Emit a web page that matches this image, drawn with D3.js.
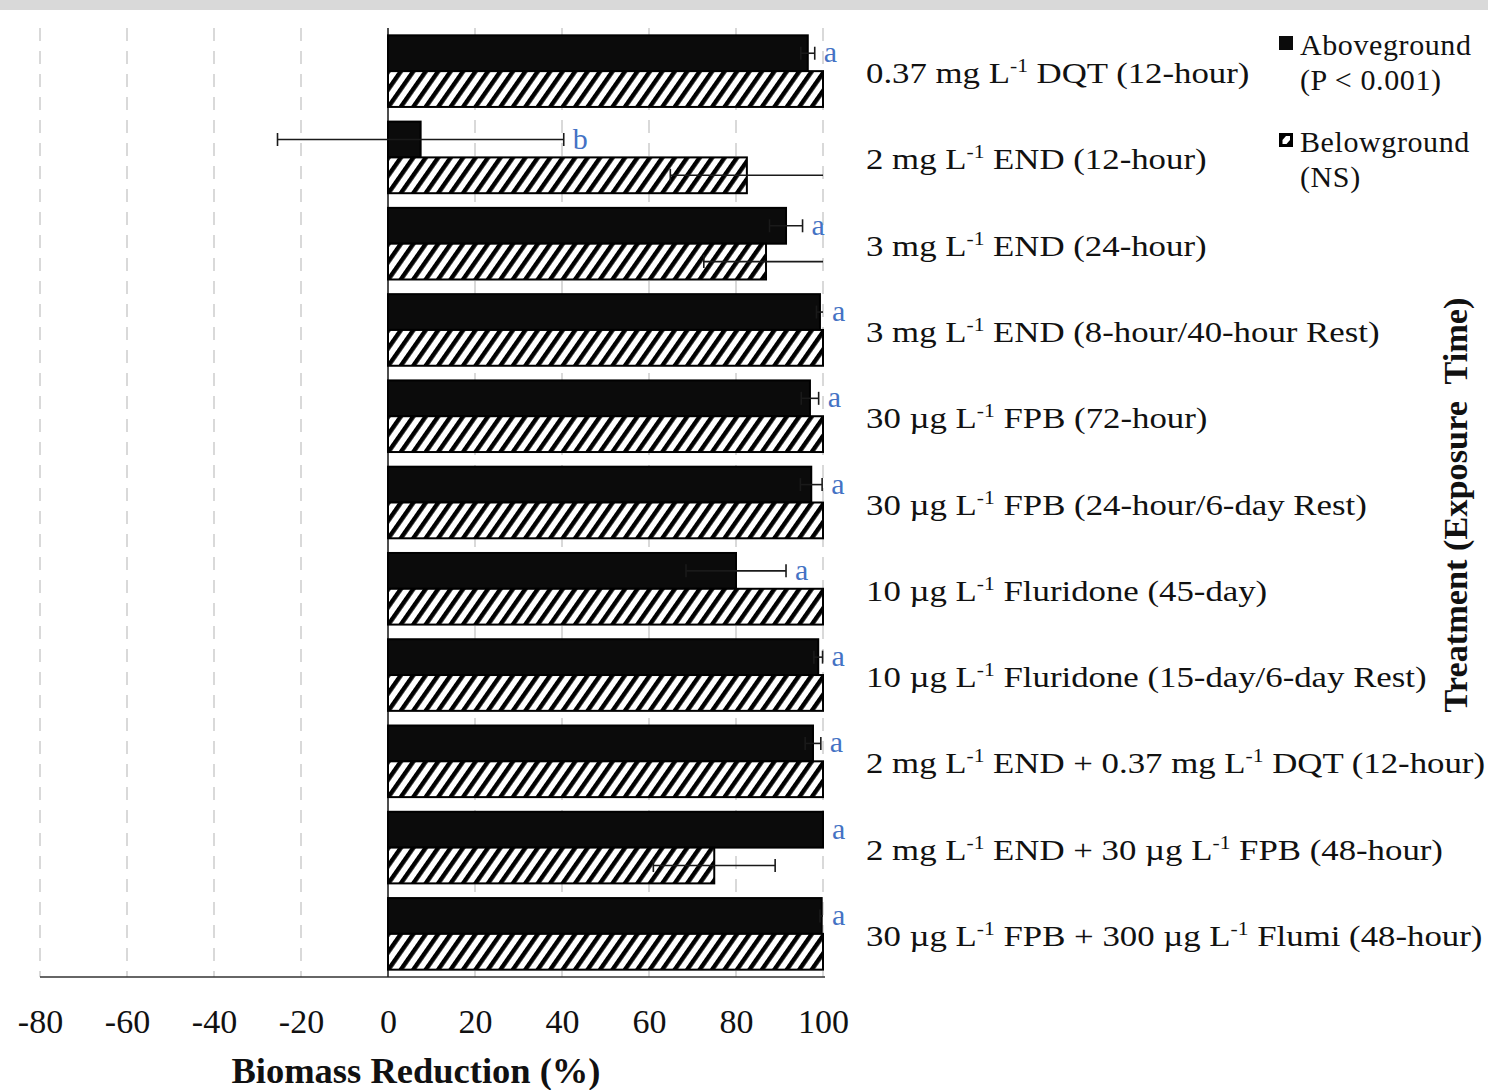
<!DOCTYPE html>
<html>
<head>
<meta charset="utf-8">
<script src="https://cdn.jsdelivr.net/npm/d3@7"></script>
<style>
  html, body { margin: 0; padding: 0; background: #fff; }
  svg { display: block; }
  text { font-family: "Liberation Serif", "Times New Roman", serif; fill: #111; }
</style>
</head>
<body>
<svg id="chart" width="1488" height="1090"></svg>
<script>
// Treatments (exposure time); "^-1" marks a superscript exponent
const treatments = [
  "0.37 mg L^-1 DQT (12-hour)",
  "2 mg L^-1 END (12-hour)",
  "3 mg L^-1 END (24-hour)",
  "3 mg L^-1 END (8-hour/40-hour Rest)",
  "30 µg L^-1 FPB (72-hour)",
  "30 µg L^-1 FPB (24-hour/6-day Rest)",
  "10 µg L^-1 Fluridone (45-day)",
  "10 µg L^-1 Fluridone (15-day/6-day Rest)",
  "2 mg L^-1 END + 0.37 mg L^-1 DQT (12-hour)",
  "2 mg L^-1 END + 30 µg L^-1 FPB (48-hour)",
  "30 µg L^-1 FPB + 300 µg L^-1 Flumi (48-hour)"
];

// Mean biomass reduction (%) and standard error
const aboveMean = [96.5, 7.5, 91.5, 99.3, 97.0, 97.3, 80.0, 98.9, 97.7, 100, 99.7];
const aboveErr  = [1.6, 32.9, 3.8, 0.8, 2.0, 2.5, 11.5, 1.0, 1.8, 0, 0.4];
const belowMean = [100, 82.5, 86.9, 100, 100, 100, 100, 100, 100, 75.0, 100];
const belowErr  = [0, 17.6, 14.3, 0, 0, 0, 0, 0, 0, 14.0, 0];

// Significance letters for aboveground biomass
const letters = ["a", "b", "a", "a", "a", "a", "a", "a", "a", "a", "a"];

const xTicks = [-80, -60, -40, -20, 0, 20, 40, 60, 80, 100];
const seriesNames = ["Aboveground", "Belowground"];
const seriesNotes = ["(P < 0.001)", "(NS)"];

const svg = d3.select("#chart");
const W = 1488, H = 1090;
const plot = { left: 40, right: 823, top: 28, bottom: 977 };

svg.append("rect").attr("width", W).attr("height", H).attr("fill", "#fff");
svg.append("rect").attr("width", W).attr("height", 10).attr("fill", "#d9d9d9");

// Diagonal hatch for belowground bars
const defs = svg.append("defs");
const hatch = defs.append("pattern")
  .attr("id", "hatch")
  .attr("patternUnits", "userSpaceOnUse")
  .attr("width", 10.2).attr("height", 10.2)
  .attr("patternTransform", "rotate(35)");
hatch.append("rect").attr("width", 10.2).attr("height", 10.2).attr("fill", "#fff");
hatch.append("rect").attr("x", 0).attr("width", 4.4).attr("height", 10.2).attr("fill", "#000");

const x = d3.scaleLinear().domain([-80, 100]).range([plot.left, plot.right]);
const y = d3.scaleBand().domain(d3.range(treatments.length))
  .range([plot.top, plot.bottom]).paddingInner(0.17).paddingOuter(0.085);
const sub = d3.scaleBand().domain([0, 1]).range([0, y.bandwidth()]);

// Dashed vertical gridlines
svg.append("g")
  .selectAll("line")
  .data(xTicks.filter(t => t !== 0))
  .join("line")
  .attr("x1", d => x(d)).attr("x2", d => x(d))
  .attr("y1", plot.top).attr("y2", plot.bottom)
  .attr("stroke", "#d9d9d9").attr("stroke-width", 2)
  .attr("stroke-dasharray", "13,10");

// Bottom axis with tick labels (plain hyphen for negatives)
const xAxis = d3.axisBottom(x).tickValues(xTicks).tickSize(0).tickPadding(0)
  .tickFormat(d => String(d));
const gx = svg.append("g").attr("transform", `translate(0,${plot.bottom})`).call(xAxis);
gx.select(".domain").attr("stroke", "#333").attr("stroke-width", 1.6)
  .attr("d", `M${plot.left},0H${x(100) + 2}`);
gx.selectAll(".tick text")
  .attr("y", 56).attr("dy", null)
  .style("font-family", "'Liberation Serif', 'Times New Roman', serif")
  .style("font-size", "34px").attr("fill", "#111");

// Zero line
svg.append("line")
  .attr("x1", x(0)).attr("x2", x(0))
  .attr("y1", plot.top).attr("y2", plot.bottom)
  .attr("stroke", "#222").attr("stroke-width", 1.6);

const groups = svg.append("g").selectAll("g")
  .data(treatments.map((t, i) => i))
  .join("g")
  .attr("transform", i => `translate(0,${y(i)})`);

// Aboveground bars
groups.append("rect")
  .attr("x", x(0))
  .attr("y", sub(0))
  .attr("width", i => x(aboveMean[i]) - x(0))
  .attr("height", sub.bandwidth())
  .attr("fill", "#0b0b0b").attr("stroke", "#000").attr("stroke-width", 2);

// Belowground bars
groups.append("rect")
  .attr("x", x(0))
  .attr("y", sub(1))
  .attr("width", i => x(belowMean[i]) - x(0))
  .attr("height", sub.bandwidth())
  .attr("fill", "url(#hatch)").attr("stroke", "#000").attr("stroke-width", 2);

// Error bars, cut at the axis maximum (no cap where cut)
function errorBar(g, mean, err, yc) {
  if (!err) return;
  const lo = mean - err, hi = mean + err;
  const hiC = Math.min(hi, 100);
  const capH = 13;
  g.append("line").attr("x1", x(lo)).attr("x2", x(hiC)).attr("y1", yc).attr("y2", yc)
    .attr("stroke", "#1a1a1a").attr("stroke-width", 1.6);
  g.append("line").attr("x1", x(lo)).attr("x2", x(lo))
    .attr("y1", yc - capH / 2).attr("y2", yc + capH / 2)
    .attr("stroke", "#1a1a1a").attr("stroke-width", 1.6);
  if (hi <= 100) {
    g.append("line").attr("x1", x(hi)).attr("x2", x(hi))
      .attr("y1", yc - capH / 2).attr("y2", yc + capH / 2)
      .attr("stroke", "#1a1a1a").attr("stroke-width", 1.6);
  }
}
groups.each(function (i) {
  const g = d3.select(this);
  errorBar(g, aboveMean[i], aboveErr[i], sub(0) + sub.bandwidth() / 2);
  errorBar(g, belowMean[i], belowErr[i], sub(1) + sub.bandwidth() / 2);
});

// Significance letters
groups.append("text")
  .attr("x", i => x(Math.min(aboveMean[i] + aboveErr[i], 100)) + 9)
  .attr("y", sub(0) + sub.bandwidth() / 2 + 9)
  .style("font-size", "30px")
  .style("fill", "#4472c4")
  .text(i => letters[i]);

// Treatment labels with superscript exponents
function richText(sel, str, size) {
  const parts = str.split("^-1");
  const rise = Math.round(size * 0.36);
  parts.forEach((p, k) => {
    const t = sel.append("tspan").text(p);
    if (k > 0) t.attr("dy", rise);
    if (k < parts.length - 1) {
      sel.append("tspan").attr("dy", -rise).style("font-size", (size * 0.62) + "px").text("-1");
    }
  });
}
groups.append("text")
  .attr("transform", `translate(866,${y.bandwidth() / 2 + 12}) scale(1.16,1)`)
  .style("font-size", "30px")
  .each(function (i) { richText(d3.select(this), treatments[i], 30); });

// Axis titles
svg.append("text")
  .attr("x", 416).attr("y", 1083)
  .attr("text-anchor", "middle")
  .style("font-size", "36.5px").style("font-weight", "bold")
  .text("Biomass Reduction (%)");

svg.append("text")
  .attr("transform", "translate(1467,505) rotate(-90)")
  .attr("text-anchor", "middle")
  .style("font-size", "34.3px").style("font-weight", "bold")
  .style("white-space", "pre")
  .text("Treatment (Exposure  Time)");

// Legend
const legend = svg.append("g").attr("transform", "translate(1279,0)");
const legendRows = [36, 133];
legendRows.forEach((ly, k) => {
  if (k === 0) {
    legend.append("rect").attr("x", 0).attr("y", ly).attr("width", 14).attr("height", 14)
      .attr("fill", "#0b0b0b");
  } else {
    legend.append("rect").attr("x", 0).attr("y", ly).attr("width", 14).attr("height", 14)
      .attr("fill", "#000");
    legend.append("path")
      .attr("d", `M3.5,${ly + 11} L3.5,${ly + 7} L7,${ly + 3} L11,${ly + 3} L11,${ly + 7} L7.5,${ly + 11} Z`)
      .attr("fill", "#fff");
  }
  legend.append("text").attr("x", 21).attr("y", ly + 19)
    .style("font-size", "30px").style("letter-spacing", "0.6px")
    .text(seriesNames[k]);
  legend.append("text").attr("x", 21).attr("y", ly + 54)
    .style("font-size", "30px").style("letter-spacing", "0.6px")
    .text(seriesNotes[k]);
});
</script>
</body>
</html>
